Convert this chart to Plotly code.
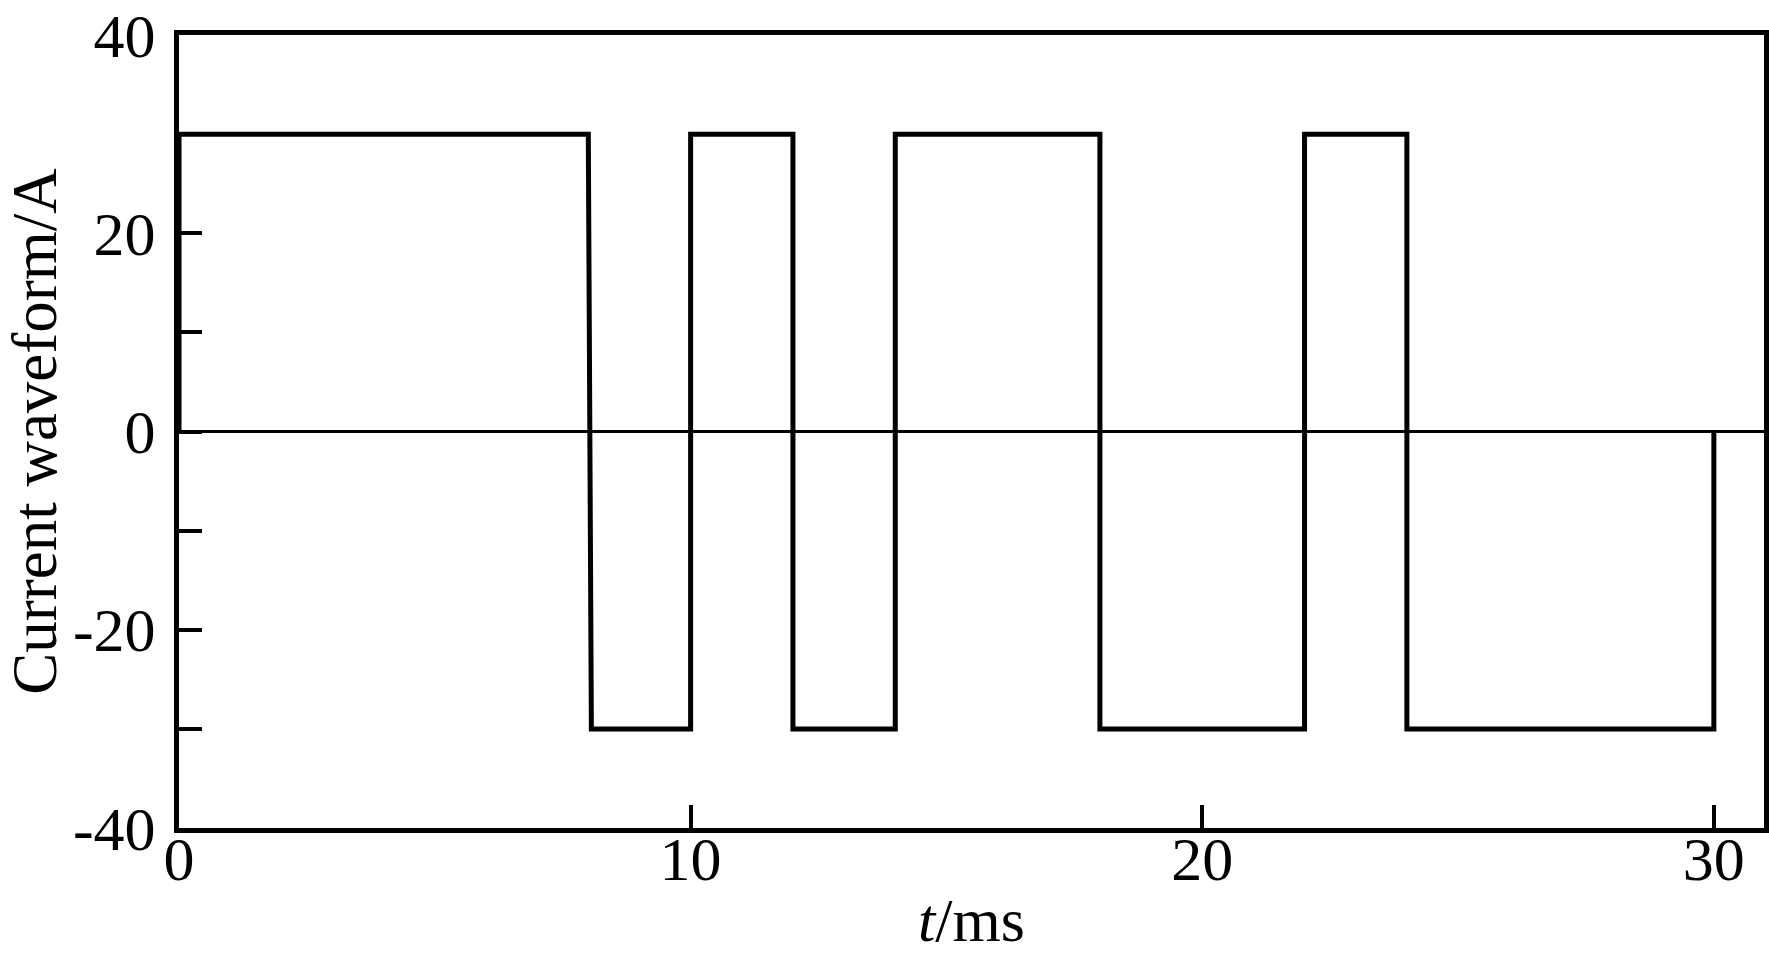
import plotly.graph_objects as go

# Waveform data (time in ms, current in A)
t_ms = [0, 0, 8, 8.06, 10, 10, 12, 12, 14, 14, 18, 18, 22, 22, 24, 24, 30, 30]
current = [0, 30, 30, -30, -30, 30, 30, -30, -30, 30, 30, -30, -30, 30, 30, -30, -30, 0]

x_ticks = [0, 10, 20, 30]
x_ticktext = ["0", "10", "20", "30"]
y_ticks = [-40, -30, -20, -10, 0, 10, 20, 30, 40]
y_ticktext = ["-40", "", "-20", "", "0", "", "20", "", "40"]

FONT = "Liberation Serif, Times New Roman, serif"

fig = go.Figure()
fig.add_trace(go.Scatter(
    x=t_ms, y=current, mode="lines",
    line=dict(color="black", width=5),
    showlegend=False,
))

fig.update_layout(
    width=1769, height=954,
    margin=dict(l=179, r=5, t=35, b=126, autoexpand=False),
    paper_bgcolor="white", plot_bgcolor="white",
    font=dict(family=FONT, size=62, color="black"),
)
fig.update_xaxes(
    range=[0, 30.98], tickvals=x_ticks, ticktext=x_ticktext,
    ticks="inside", ticklen=23, tickwidth=4, tickcolor="black",
    showline=True, linecolor="black", linewidth=5, mirror=True,
    showgrid=False, zeroline=False,
    tickfont=dict(family=FONT, size=62),
    ticklabelstandoff=-27,
    title=dict(text="<i>t</i>/ms", font=dict(family=FONT, size=62), standoff=9),
    automargin=False,
)
fig.update_yaxes(
    range=[-40, 40], tickvals=y_ticks, ticktext=y_ticktext,
    ticks="inside", ticklen=23, tickwidth=4, tickcolor="black",
    showline=True, linecolor="black", linewidth=5, mirror=True,
    showgrid=False, zeroline=True, zerolinecolor="black", zerolinewidth=3.3,
    tickfont=dict(family=FONT, size=62),
    ticklabelstandoff=6,
    title=dict(text="Current waveform/A", font=dict(family=FONT, size=63), standoff=24),
    automargin=False,
)

fig.write_html(
    "out.html",
    config={"displayModeBar": False},
    post_script="document.body.style.margin='0';document.body.style.overflow='hidden';",
)
